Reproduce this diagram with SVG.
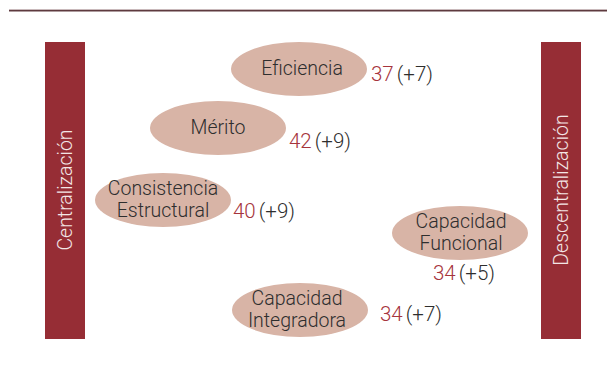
<svg xmlns="http://www.w3.org/2000/svg" width="607" height="368" viewBox="0 0 607 368">
<style>
.bar{fill:#962d35}
.ell{fill:#d8b4a6}
.lbl{font-family:Roboto,"Liberation Sans",sans-serif;font-size:19.5px;font-weight:300;fill:#2e2e2e;text-anchor:middle}
.vt{font-family:Roboto,"Liberation Sans",sans-serif;font-size:19.5px;fill:#f3e6e6;text-anchor:middle;font-weight:300}
.num{font-family:Roboto,"Liberation Sans",sans-serif;font-size:20.5px;font-weight:300;fill:#2e2e2e}
.r{fill:#a6343c}
</style>
<rect width="607" height="368" fill="#fff"/>
<line x1="9" y1="9.5" x2="607" y2="9.5" stroke="#c9b9bb" stroke-width="1"/>
<line x1="9" y1="10.8" x2="607" y2="10.8" stroke="#5e3a3f" stroke-width="1.4"/>
<g id="centralizacion">
<rect class="bar" x="45" y="42" width="40" height="297"/>
<text class="vt" transform="translate(72,190) rotate(-90)">Centralización</text>
</g>
<g id="descentralizacion">
<rect class="bar" x="541" y="42" width="40" height="297"/>
<text class="vt" transform="translate(568,190) rotate(-90)">Descentralización</text>
</g>
<g id="eficiencia">
<ellipse class="ell" cx="299" cy="69" rx="68" ry="27"/>
<text class="lbl" x="302" y="75">Eficiencia</text>
<text class="num" x="371" y="81"><tspan class="r">37</tspan><tspan dx="3">(+7)</tspan></text>
</g>
<g id="merito">
<ellipse class="ell" cx="218" cy="128" rx="68" ry="27"/>
<text class="lbl" x="218" y="134">Mérito</text>
<text class="num" x="289" y="148"><tspan class="r">42</tspan><tspan dx="3">(+9)</tspan></text>
</g>
<g id="consistencia">
<ellipse class="ell" cx="163" cy="200" rx="68" ry="27"/>
<text class="lbl" x="163" y="195">Consistencia</text>
<text class="lbl" x="163" y="217">Estructural</text>
<text class="num" x="233" y="218"><tspan class="r">40</tspan><tspan dx="3">(+9)</tspan></text>
</g>
<g id="capacidad-funcional">
<ellipse class="ell" cx="460" cy="233" rx="68" ry="27"/>
<text class="lbl" x="461" y="228">Capacidad</text>
<text class="lbl" x="461" y="250">Funcional</text>
<text class="num" x="433" y="280"><tspan class="r">34</tspan><tspan dx="3">(+5)</tspan></text>
</g>
<g id="capacidad-integradora">
<ellipse class="ell" cx="300" cy="310" rx="68" ry="27"/>
<text class="lbl" x="297" y="305">Capacidad</text>
<text class="lbl" x="297" y="327">Integradora</text>
<text class="num" x="380" y="321"><tspan class="r">34</tspan><tspan dx="3">(+7)</tspan></text>
</g>
<g id="connectors"></g>
</svg>
